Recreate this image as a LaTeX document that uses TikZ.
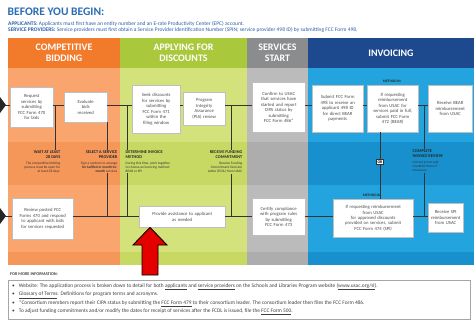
\documentclass[tikz,border=0pt]{standalone}
\usepackage{fontspec}
\setmainfont{Carlito}
\usetikzlibrary{positioning}
\definecolor{titleblue}{HTML}{2B6CB3}
\definecolor{introblue}{HTML}{2A5DA8}
\definecolor{orangehead}{HTML}{F27B2B}
\definecolor{orangebody}{HTML}{F9A56D}
\definecolor{orangeband}{HTML}{F6975A}
\definecolor{greenhead}{HTML}{A9C83C}
\definecolor{greenbody}{HTML}{D4E27B}
\definecolor{greenband}{HTML}{C8D963}
\definecolor{grayhead}{HTML}{8B8C8E}
\definecolor{graybody}{HTML}{BBBBBB}
\definecolor{grayband}{HTML}{ADADAD}
\definecolor{navyhead}{HTML}{1D4A8E}
\definecolor{bluebody}{HTML}{23A4DE}
\definecolor{blueband}{HTML}{1790CD}
\tikzset{
  stepbox/.style={rectangle, draw=black!25, fill=white, inner sep=1bp, align=center,
    anchor=north west, text=black!70, font=\fontsize{4.7}{5.5}\selectfont},
  colhead/.style={text=white, align=center, font=\fontsize{10}{11}\selectfont\bfseries},
  mtitle/.style={inner sep=0.5bp, text=black!85, font=\fontsize{4.3}{4.7}\selectfont\bfseries},
  mbody/.style={inner sep=0.5bp, text=black!80, font=\fontsize{3.5}{4.2}\selectfont},
  footline/.style={anchor=west, inner sep=0bp, text=black!75, font=\fontsize{5.4}{6}\selectfont},
  flow/.style={draw=black!80, line width=0.7bp},
}
\begin{document}
\begin{tikzpicture}[x=1bp, y=-1bp]
    \useasboundingbox (0,0) rectangle (475,321);
    % intro
    \node[anchor=west, inner sep=0bp, text=titleblue, font=\fontsize{11.6}{12}\selectfont\bfseries]
        (begin) at (7.5,12) {BEFORE YOU BEGIN:};
    \node[anchor=west, inner sep=0bp, text=introblue, font=\fontsize{5.5}{6}\selectfont]
        (applicants) at (8,24) {\textbf{APPLICANTS:} Applicants must first have an entity number and an E-rate Productivity Center (EPC) account.};
    \node[anchor=west, inner sep=0bp, text=introblue, font=\fontsize{5.5}{6}\selectfont]
        (providers) at (8,29.5) {\textbf{SERVICE PROVIDERS:} Service providers must first obtain a Service Provider Identification Number (SPIN; service provider 498 ID) by submitting FCC Form 498.};
    % columns
    \fill[orangehead] (8,38) rectangle (120,68);
    \fill[orangebody] (8,68) rectangle (120,252);
    \fill[orangeband] (8,142) rectangle (120,185);
    \fill[orangeband] (8,252) rectangle (120,265);
    \fill[greenhead] (120,38) rectangle (247,68);
    \fill[greenbody] (120,68) rectangle (247,252);
    \fill[greenband] (120,142) rectangle (247,185);
    \fill[greenband] (120,252) rectangle (247,265);
    \fill[grayhead] (247,38) rectangle (308,68);
    \fill[graybody] (247,68) rectangle (308,252);
    \fill[grayband] (247,142) rectangle (308,185);
    \fill[grayband] (247,252) rectangle (308,265);
    \fill[navyhead] (308,38) rectangle (474,68);
    \fill[bluebody] (308,68) rectangle (474,252);
    \fill[blueband] (308,142) rectangle (474,185);
    \fill[blueband] (308,252) rectangle (474,265);
    \node[colhead] (bidding) at (64,53) {COMPETITIVE\\BIDDING};
    \node[colhead] (applying) at (183.5,53) {APPLYING FOR\\DISCOUNTS};
    \node[colhead] (start) at (277.5,53) {SERVICES\\START};
    \node[colhead] (invoicing) at (391,53) {INVOICING};
    % start arrows
    \fill[black!85] (0,97) -- (6,105) -- (0,113) -- cycle;
    \fill[black!85] (0,208) -- (6,216) -- (0,224) -- cycle;
    \coordinate (startA) at (5,105);
    \coordinate (startB) at (5,216);
    % applicant steps
    \node[stepbox, text width=41bp, minimum height=40bp] (request) at (10,87)
        {Request\\services by\\submitting\\FCC Form 470\\for bids};
    \node[stepbox, text width=41bp, minimum height=30bp] (evaluate) at (64,92)
        {Evaluate\\bids\\received};
    \node[stepbox, text width=46bp, minimum height=48bp] (seek) at (132,85)
        {Seek discounts\\for services by\\submitting\\FCC Form 471\\within the\\filing window};
    \node[stepbox, text width=40bp, minimum height=33bp] (pia) at (183,92)
        {Program\\Integrity\\Assurance\\(PIA) review};
    \node[stepbox, text width=51bp, minimum height=50bp] (confirm) at (252,82)
        {Confirm to USAC\\that services have\\started and report\\CIPA status by\\submitting\\FCC Form 486*};
    \node[stepbox, text width=49bp, minimum height=47bp] (submit) at (312,85)
        {Submit FCC Form\\498 to receive an\\applicant 498 ID\\for direct BEAR\\payments};
    \node[stepbox, text width=49bp, minimum height=47bp] (bear) at (367,85)
        {If requesting\\reimbursement\\from USAC for\\services paid in full,\\submit FCC Form\\472 (BEAR)};
    \node[stepbox, text width=42bp, minimum height=47bp] (bearpay) at (428,85)
        {Receive BEAR\\reimbursement\\from USAC};
    % service provider steps
    \node[stepbox, text width=59bp, minimum height=41bp] (review) at (12,198)
        {Review posted FCC\\Forms 470 and respond\\to applicant with bids\\for services requested};
    \node[stepbox, text width=84bp, minimum height=21bp] (assist) at (139,206)
        {Provide assistance to applicant\\as needed};
    \node[stepbox, text width=51bp, minimum height=37bp] (certify) at (252,198)
        {Certify compliance\\with program rules\\by submitting\\FCC Form 473};
    \node[stepbox, text width=78bp, minimum height=38bp] (spi) at (333,199)
        {If requesting reimbursement\\from USAC\\for approved discounts\\provided on services, submit\\FCC Form 474 (SPI)};
    \node[stepbox, text width=33bp, minimum height=29bp] (spipay) at (428,203)
        {Receive SPI\\reimbursement\\from USAC};
    % milestones
    \node[mtitle, anchor=north east, align=right] (waittitle) at (61,150) {WAIT AT LEAST\\28 DAYS};
    \node[mbody, anchor=north east, align=right] (waittext) at ([yshift=-2bp]waittitle.south east)
        {The competitive bidding\\process must be open for\\at least 28 days.};
    \node[mtitle, anchor=north east, align=right] (selecttitle) at (118,150) {SELECT A SERVICE\\PROVIDER};
    \node[mbody, anchor=north east, align=right] (selecttext) at ([yshift=-2bp]selecttitle.south east)
        {Sign a contract or arrange\\\textbf{for tariffed or month-to-}\\\textbf{month} services};
    \node[mtitle, anchor=north west, align=left] (determinetitle) at (125,150) {DETERMINE INVOICE\\METHOD};
    \node[mbody, anchor=north west, align=left] (determinetext) at ([yshift=-2bp]determinetitle.south west)
        {During this time, work together\\to choose an invoicing method:\\BEAR or SPI};
    \node[mtitle, anchor=north east, align=right] (fundingtitle) at (243,150) {RECEIVE FUNDING\\COMMITMENT};
    \node[mbody, anchor=north east, align=right] (fundingtext) at ([yshift=-2bp]fundingtitle.south east)
        {Receive Funding\\Commitment Decision\\Letter (FCDL) from USAC};
    \node[mtitle, anchor=north west, align=left] (completetitle) at (412,149) {COMPLETE\\INVOICE REVIEW};
    \node[mbody, anchor=north west, align=left] (completetext) at ([yshift=-2bp]completetitle.south west)
        {Correct errors and\\resubmit forms if\\necessary};
    \node[mtitle, font=\fontsize{3.6}{4}\selectfont\bfseries] (method1) at (392,81.5) {METHOD \#1};
    \node[mtitle, font=\fontsize{3.6}{4}\selectfont\bfseries] (method2) at (372,195.5) {METHOD \#2};
    \node[draw=black!80, fill=white, inner sep=1.2bp, font=\fontsize{4}{4}\selectfont\bfseries] (orlbl) at (380,162) {OR};
    % row lines
    \draw[flow] (startA) -- (startA -| request.west);
    \draw[flow] (startA -| request.east) -- (startA -| evaluate.west);
    \draw[flow] (startA -| evaluate.east) -- (startA -| seek.west);
    \draw[flow] (startA -| seek.east) -- (startA -| pia.west);
    \draw[flow] (startA -| pia.east) -- (startA -| confirm.west);
    \draw[flow] (startA -| confirm.east) -- (startA -| submit.west);
    \draw[flow] (startA -| submit.east) -- (startA -| bear.west);
    \draw[flow] (startA -| bear.east) -- (startA -| bearpay.west);
    \draw[flow] (startB) -- (startB -| review.west);
    \draw[flow] (startB -| review.east) -- (startB -| assist.west);
    \draw[flow] (startB -| assist.east) -- (startB -| certify.west);
    \draw[flow] (startB -| certify.east) -- (startB -| spi.west);
    \draw[flow] (startB -| spi.east) -- (startB -| spipay.west);
    % drops to milestones
    \coordinate (vwait) at (55,105);
    \coordinate (vselect) at (107,105);
    \coordinate (vdetermine) at (127,105);
    \coordinate (vfunding) at (231,105);
    \coordinate (vcomplete) at (424,105);
    \draw[flow] (vwait) -- (vwait |- waittitle.north);
    \draw[flow] (vselect |- evaluate.south) -- (vselect |- selecttitle.north);
    \draw[flow] (vselect |- selecttext.south) -- (vselect |- startB);
    \draw[flow] (vdetermine) -- (vdetermine |- determinetitle.north);
    \draw[flow] (vdetermine |- determinetext.south) -- (vdetermine |- startB);
    \draw[flow] (vfunding) -- (vfunding |- fundingtitle.north);
    \draw[flow] (vfunding |- fundingtext.south) -- (vfunding |- startB);
    \draw[flow] (vcomplete) -- (vcomplete |- completetitle.north);
    \draw[flow] (vcomplete |- completetext.south) -- (vcomplete |- startB);
    \draw[flow] (bear.south -| orlbl) -- (orlbl.north);
    \draw[flow] (orlbl.south) -- (spi.north -| orlbl);
    % more information
    \node[anchor=west, inner sep=0bp, text=black!75, font=\fontsize{4.3}{5}\selectfont\bfseries]
        (moreinfo) at (10,274) {FOR MORE INFORMATION:};
    \draw[black!35, fill=white, line width=0.6bp] (8,280) rectangle (470,319);
    \node[footline] (foot1) at (12,286.5) {\textbullet\hspace{4bp}Website: The application process is broken down to detail for both \underline{applicants} and \underline{service providers} on the Schools and Libraries Program website (\underline{www.usac.org/sl}).};
    \node[footline] (foot2) at (12,295) {\textbullet\hspace{4bp}\underline{Glossary of Terms}: Definitions for program terms and acronyms.};
    \node[footline] (foot3) at (12,303.5) {\textbullet\hspace{4bp}*Consortium members report their CIPA status by submitting the \underline{FCC Form 479} to their consortium leader. The consortium leader then files the FCC Form 486.};
    \node[footline] (foot4) at (12,312) {\textbullet\hspace{4bp}To adjust funding commitments and/or modify the dates for receipt of services after the FCDL is issued, file the \underline{FCC Form 500}.};
    % pointer
    \draw[fill=red!90!black, draw=black, line width=0.9bp, line join=miter]
        (assist.south -| 150,0) -- (167,245) -- (158,245) -- (158,275) -- (142,275) -- (142,245) -- (133,245) -- cycle;
\end{tikzpicture}
\end{document}
